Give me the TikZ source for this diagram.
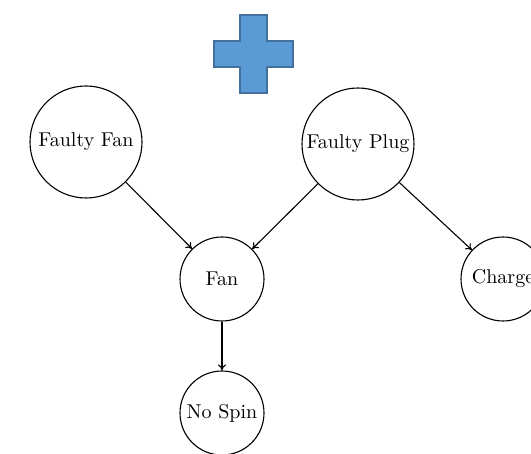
\documentclass[tikz,border=0pt]{standalone}
\usetikzlibrary{arrows.meta}
\definecolor{plusfill}{HTML}{5B9BD5}
\definecolor{plusline}{HTML}{41719C}
\begin{document}
\begin{tikzpicture}[x=0.5pt,y=-0.5pt,
  state/.style={circle,draw,line width=0.55pt,inner sep=0pt,font=\normalsize},
  bigstate/.style={state,minimum size=56pt},
  smallstate/.style={state,minimum size=42pt},
  link/.style={-{To[length=3pt,width=4pt]},line width=0.55pt}]
\useasboundingbox (0,0) rectangle (531,454);
% plus sign
\draw[fill=plusfill,draw=plusline,line width=1pt]
  (240,15) -- (267,15) -- (267,41) -- (293,41) -- (293,67) -- (267,67)
  -- (267,93) -- (240,93) -- (240,67) -- (214,67) -- (214,41) -- (240,41) -- cycle;
% nodes
\node[bigstate] (ff) at (86,142) {Faulty Fan};
\node[bigstate] (fp) at (358,144) {Faulty Plug};
\node[smallstate] (fan) at (222,279) {Fan};
\node[smallstate] (ch) at (503,279) {Charge};
\node[smallstate] (ns) at (222,413) {No Spin};
% connectors
\draw[link] (ff) -- (fan);
\draw[link] (fp) -- (fan);
\draw[link] (fp) -- (ch);
\draw[link] (fan) -- (ns);
\end{tikzpicture}
\end{document}
